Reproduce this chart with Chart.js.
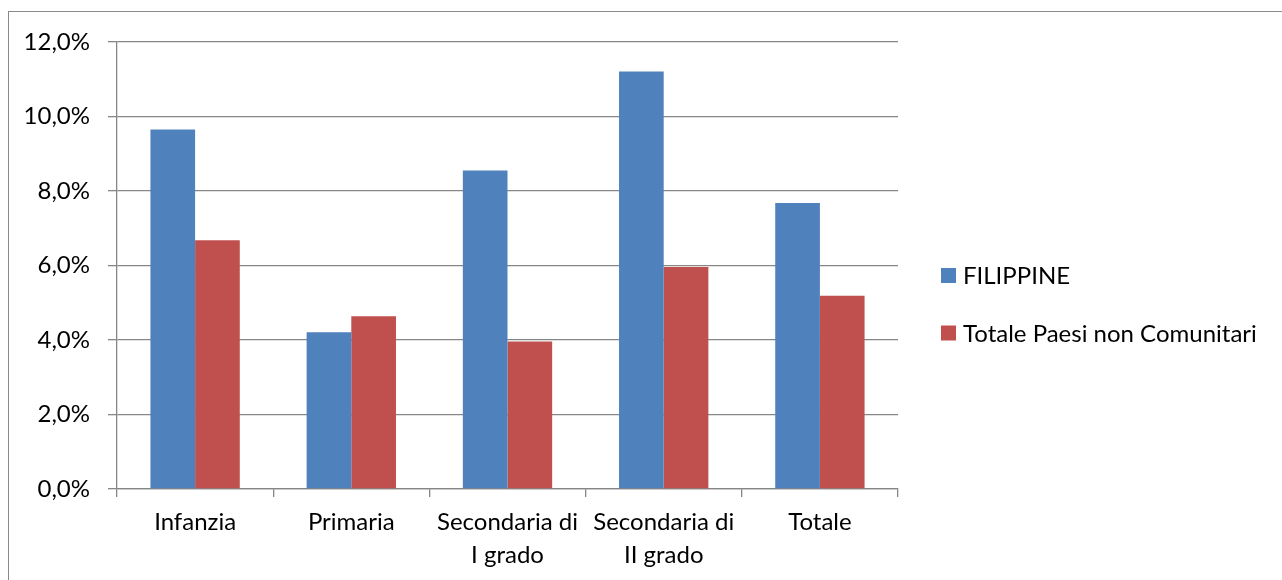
<!DOCTYPE html>
<html>
<head>
<meta charset="utf-8">
<script src="https://cdn.jsdelivr.net/npm/chart.js@4"></script>
<style>
  html, body { margin: 0; padding: 0; background: #fff; overflow: hidden; }
  #contenitore { position: relative; width: 1282px; height: 580px; }
  #cornice {
    position: absolute; left: 8px; top: 11px; width: 1400px; height: 700px;
    border: 1px solid #8a8a8a; box-sizing: border-box; pointer-events: none;
  }
  canvas { position: absolute; left: 0; top: 0; }
</style>
</head>
<body>
<div id="contenitore">
  <div id="cornice"></div>
  <canvas id="grafico" width="1282" height="580"></canvas>
</div>
<script>
// Categorie (ordini di scuola) e serie in percentuale
let categorie = ["Infanzia", "Primaria", ["Secondaria di", "I grado"], ["Secondaria di", "II grado"], "Totale"];
let filippine = [9.65, 4.21, 8.55, 11.21, 7.68];
let nonComunitari = [6.68, 4.64, 3.96, 5.96, 5.19];
let nomiSerie = ["FILIPPINE", "Totale Paesi non Comunitari"];
let coloriSerie = ["#4F81BD", "#C0504D"];

let grigio = "#868686";
let font = { family: "Lato, 'Open Sans', sans-serif", size: 24, lineHeight: 1.36 };

// Legenda disegnata a destra dell'area del grafico
let legendaDestra = {
    id: "legendaDestra",
    afterDraw(chart) {
        let ctx = chart.ctx;
        ctx.save();
        ctx.font = "24px Lato, 'Open Sans', sans-serif";
        ctx.textBaseline = "middle";
        ctx.textAlign = "left";
        chart.data.datasets.forEach(function (ds, i) {
            let y = 275.5 + i * 57.5;
            ctx.fillStyle = ds.backgroundColor;
            ctx.fillRect(941, y - 7.5, 15, 15);
            ctx.fillStyle = "#000";
            ctx.fillText(ds.label, 963, y + 1);
        });
        ctx.restore();
    }
};

let grafico = new Chart(document.getElementById("grafico"), {
    type: "bar",
    data: {
        labels: categorie,
        datasets: [
            { label: nomiSerie[0], data: filippine, backgroundColor: coloriSerie[0] },
            { label: nomiSerie[1], data: nonComunitari, backgroundColor: coloriSerie[1] }
        ]
    },
    options: {
        responsive: false,
        animation: false,
        devicePixelRatio: 1,
        categoryPercentage: 0.572,
        barPercentage: 1,
        layout: { padding: { left: 0, top: 42, right: 384, bottom: 0 } },
        plugins: {
            legend: { display: false },
            tooltip: { enabled: false }
        },
        scales: {
            x: {
                grid: { offset: true, drawOnChartArea: false, color: grigio, tickLength: 8, lineWidth: 1.3 },
                border: { color: grigio, width: 1.3 },
                ticks: { color: "#000", font: font, padding: 9, maxRotation: 0, autoSkip: false },
                afterFit: function (scale) { scale.height = 91; }
            },
            y: {
                min: 0,
                max: 12,
                grid: { color: grigio, tickLength: 9, lineWidth: 1.3 },
                border: { color: grigio, width: 1.3 },
                ticks: {
                    stepSize: 2,
                    color: "#000",
                    font: font,
                    padding: 18,
                    callback: function (v) { return v.toFixed(1).replace(".", ",") + "%"; }
                },
                afterFit: function (scale) { scale.width = 117; }
            }
        }
    },
    plugins: [legendaDestra]
});
</script>
</body>
</html>
